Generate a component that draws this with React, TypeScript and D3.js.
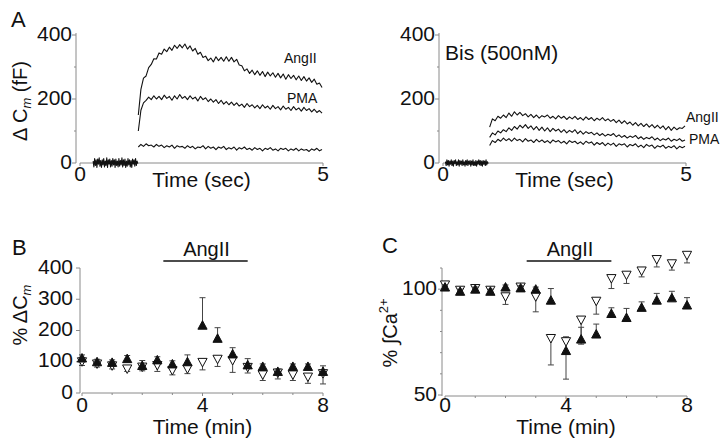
import React from "react";
import * as d3 from "d3";

const FONT = "'Liberation Sans', Arial, Helvetica, sans-serif";
const AXIS = "#8a8a8a";
const INK = "#111";

// ---------- Panel A (capacitance traces, time in sec) ----------
const aXTicks = [0, 5];
const aYTicks = [0, 200, 400];
const aYMinor = [100, 300];

const aLeftBaseRange = [0.27, 1.19];
const aLeftTraceRange = [1.2, 4.98];
const aLeftBaseline = [6, -12, 14, -8, 10, -14, 12, -4, 16, -10, 8, -14, 10, -6, 14, -12, 6, -8, 16, -14, 10, -4, 12, -12, 8, -10, 14, -6, 10, -14, 12, -8, 6, -12, 14, -10, 8, -6, 16, -12, 10, -8, 12, -14, 6, -10, 14, -6, 10, -12, 8, -14, 12, -4, 10, -10, 14, -8, 6, -2];
const aLeftAngII = [150, 230, 265, 272, 298, 308, 326, 325, 344, 340, 356, 348, 362, 352, 368, 358, 370, 360, 372, 356, 366, 350, 358, 340, 346, 330, 334, 320, 328, 316, 332, 320, 330, 318, 332, 318, 330, 316, 324, 306, 304, 288, 294, 280, 290, 276, 288, 274, 286, 270, 284, 272, 282, 268, 280, 266, 278, 262, 276, 264, 274, 260, 272, 258, 270, 256, 266, 252, 262, 246, 250, 236];
const aLeftPMA = [100, 165, 188, 196, 206, 198, 210, 200, 208, 198, 212, 202, 208, 196, 210, 200, 214, 202, 208, 198, 210, 200, 206, 194, 208, 198, 204, 192, 200, 190, 198, 186, 196, 184, 192, 182, 190, 180, 188, 178, 184, 174, 186, 176, 182, 172, 180, 170, 182, 172, 178, 168, 180, 170, 176, 166, 178, 168, 174, 164, 176, 166, 172, 162, 174, 164, 170, 160, 168, 158, 164, 156];
const aLeftControl = [50, 58, 52, 60, 54, 56, 50, 58, 52, 56, 48, 54, 50, 56, 46, 54, 50, 52, 46, 54, 48, 52, 44, 50, 48, 54, 44, 52, 46, 50, 42, 50, 46, 52, 42, 48, 44, 50, 40, 48, 44, 50, 42, 46, 40, 48, 42, 46, 38, 46, 42, 48, 40, 44, 38, 46, 42, 46, 38, 44, 40, 46, 38, 44, 40, 42, 36, 44, 40, 46, 38, 42];

const aRightBaseRange = [0.05, 0.93];
const aRightTraceRange = [0.96, 4.98];
const aRightBaseline = [4, -8, 10, -6, 8, -10, 6, -4, 10, -8, 6, -10, 8, -2, 10, -8, 4, -6, 10, -10, 8, -4, 6, -8, 10, -6, 4, -10, 8, -6, 10, -8, 6, -4, 8, -10, 6, -6, 10, -8, 4, -8, 8, -10, 6, -4, 10, -6, 8, -8, 6, -10, 8, -4, 6, -8, 10, -6, 4, -2];
const aRightAngII = [112, 138, 132, 146, 140, 150, 142, 156, 146, 160, 150, 158, 148, 154, 144, 152, 142, 150, 140, 148, 144, 150, 140, 146, 138, 148, 140, 146, 136, 144, 138, 146, 136, 142, 134, 144, 136, 142, 132, 140, 134, 142, 132, 138, 130, 136, 126, 134, 124, 132, 122, 128, 118, 126, 116, 124, 114, 122, 112, 120, 110, 118, 108, 116, 104, 114, 102, 112, 104, 110, 108, 116];
const aRightMid = [80, 94, 88, 100, 94, 104, 98, 110, 102, 114, 106, 118, 110, 120, 108, 116, 104, 114, 102, 112, 100, 110, 98, 108, 100, 106, 96, 104, 94, 102, 96, 104, 92, 100, 90, 98, 92, 96, 88, 94, 86, 92, 84, 90, 86, 92, 82, 88, 80, 86, 78, 84, 80, 86, 76, 82, 74, 80, 76, 82, 72, 78, 70, 76, 72, 78, 68, 74, 70, 76, 68, 72];
const aRightLow = [55, 70, 64, 74, 68, 78, 70, 76, 68, 78, 70, 74, 66, 76, 68, 72, 64, 74, 66, 72, 64, 70, 62, 72, 66, 70, 62, 68, 60, 70, 64, 68, 60, 66, 58, 68, 62, 66, 56, 64, 58, 64, 54, 62, 56, 62, 52, 60, 56, 60, 50, 58, 54, 60, 50, 56, 48, 58, 52, 56, 46, 54, 50, 56, 46, 52, 48, 54, 44, 52, 48, 52];

// ---------- Panels B and C (time in min) ----------
const timeMin = [0, 0.5, 1, 1.5, 2, 2.5, 3, 3.5, 4, 4.5, 5, 5.5, 6, 6.5, 7, 7.5, 8];
const bcXTicks = [0, 4, 8];
const bcXMinor = [1, 2, 3, 5, 6, 7];
const angIIPeriod = [2.7, 5.5];

const bYTicks = [0, 100, 200, 300, 400];
const bFilled = [112, 100, 98, 110, 88, 106, 93, 100, 217, 175, 125, 90, 85, 69, 85, 85, 69];
const bFilledErrUp = [10, 8, 8, 10, 16, 10, 10, 22, 88, 34, 20, 20, 8, 8, 8, 8, 18];
const bFilledErrDown = [0, 0, 0, 0, 0, 0, 0, 0, 0, 0, 0, 0, 0, 0, 0, 0, 0];
const bOpen = [100, 93, 87, 77, 83, 88, 72, 77, 98, 108, 104, 82, 58, 64, 58, 51, 62];
const bOpenErrUp = [0, 0, 0, 0, 0, 0, 0, 0, 0, 0, 0, 0, 0, 0, 0, 0, 0];
const bOpenErrDown = [12, 10, 10, 8, 12, 19, 14, 15, 24, 23, 38, 18, 18, 19, 18, 20, 33];

const cYTicks = [50, 100];
const cYMinor = [60, 70, 80, 90, 110];
const cFilled = [101, 99, 100, 99, 101, 100.6, 100, 94.8, 71, 76.4, 78.8, 88.5, 86.6, 91.4, 94.8, 95.9, 92.5];
const cFilledErrUp = [1, 1, 1, 1, 1, 1, 1, 5.5, 0, 5.6, 4.7, 2.7, 4.3, 2.6, 3.2, 3.1, 3.5];
const cFilledErrDown = [0, 0, 0, 0, 0, 0, 0, 0, 13.5, 0, 0, 0, 0, 0, 0, 0, 0];
const cOpen = [102, 99.5, 100.3, 99.5, 96.4, 101, 96.4, 76.7, 75.2, 85.4, 94.3, 105, 106.6, 108.6, 114, 112, 116];
const cOpenErrUp = [0, 0, 0, 0, 0, 0, 0, 0, 2.3, 0, 0, 0, 0, 0, 0, 0, 0];
const cOpenErrDown = [0.8, 0.8, 0.8, 0.8, 3.6, 1.5, 7.1, 12.5, 0, 11.4, 6.1, 4.7, 3.9, 2.8, 3.5, 3, 3.6];

type Scale = d3.ScaleLinear<number, number>;

function Trace({ x, y, range, values }: { x: Scale; y: Scale; range: number[]; values: number[] }) {
  const n = values.length;
  const pts: [number, number][] = values.map((v, i) => [range[0] + (i * (range[1] - range[0])) / (n - 1), v]);
  const line = d3.line<[number, number]>().x((d) => x(d[0])).y((d) => y(d[1]));
  return <path d={line(pts) || ""} fill="none" stroke={INK} strokeWidth={1.1} strokeLinejoin="round" />;
}

function PanelA({ x, y, axisX, label, base, baseRange, traceRange, traces, title }: any) {
  const y0 = y(0);
  return (
    <g>
      <line x1={axisX} x2={axisX} y1={y(400) - 2} y2={y0} stroke={AXIS} strokeWidth={1} />
      <line x1={x(0)} x2={x(5)} y1={y0} y2={y0} stroke={AXIS} strokeWidth={1} />
      {aYTicks.map((t) => (
        <g key={"yt" + t}>
          <line x1={axisX - 4} x2={axisX} y1={y(t)} y2={y(t)} stroke={AXIS} />
          <text x={axisX - 4} y={y(t) - 2} textAnchor="end" dominantBaseline="central" fontSize={21} fill={INK}>
            {t}
          </text>
        </g>
      ))}
      {aYMinor.map((t) => (
        <line key={"ym" + t} x1={axisX - 2} x2={axisX} y1={y(t)} y2={y(t)} stroke={AXIS} />
      ))}
      {aXTicks.map((t) => (
        <g key={"xt" + t}>
          <line x1={x(t)} x2={x(t)} y1={y0} y2={y0 + 3} stroke={AXIS} />
          <text x={x(t)} y={y0 + 18} textAnchor="middle" fontSize={21} fill={INK}>
            {t}
          </text>
        </g>
      ))}
      <text x={(x(0) + x(5)) / 2} y={y0 + 24} textAnchor="middle" fontSize={21} fill={INK}>
        Time (sec)
      </text>
      <Trace x={x} y={y} range={baseRange} values={base} />
      {traces.map((tr: number[], i: number) => (
        <Trace key={i} x={x} y={y} range={traceRange} values={tr} />
      ))}
      {label}
      {title}
    </g>
  );
}

function Markers({ x, y, values, errUp, errDown, filled }: any) {
  const w = 4.6;
  const h = 8;
  return (
    <g>
      {values.map((v: number, i: number) => {
        const cx = x(timeMin[i]);
        const cy = y(v);
        const up = errUp[i];
        const dn = errDown[i];
        return (
          <g key={i}>
            {up > 0 && (
              <g stroke="#444" strokeWidth={1}>
                <line x1={cx} x2={cx} y1={cy} y2={y(v + up)} />
                <line x1={cx - 3} x2={cx + 3} y1={y(v + up)} y2={y(v + up)} />
              </g>
            )}
            {dn > 0 && (
              <g stroke="#444" strokeWidth={1}>
                <line x1={cx} x2={cx} y1={cy} y2={y(v - dn)} />
                <line x1={cx - 3} x2={cx + 3} y1={y(v - dn)} y2={y(v - dn)} />
              </g>
            )}
          </g>
        );
      })}
      {values.map((v: number, i: number) => {
        const cx = x(timeMin[i]);
        const cy = y(v);
        const d = filled
          ? `M${cx},${cy - h / 2 - 0.5}L${cx + w},${cy + h / 2}L${cx - w},${cy + h / 2}Z`
          : `M${cx},${cy + h / 2 + 0.5}L${cx + w},${cy - h / 2}L${cx - w},${cy - h / 2}Z`;
        return <path key={"m" + i} d={d} fill={filled ? INK : "#fff"} stroke={INK} strokeWidth={1} />;
      })}
    </g>
  );
}

function BCAxes({ x, y, axisX, yTicks, yMinor, yMax, y0, labelGap }: any) {
  return (
    <g>
      <line x1={axisX} x2={axisX} y1={y(yMax)} y2={y0} stroke={AXIS} />
      <line x1={x(0)} x2={x(8)} y1={y0} y2={y0} stroke={AXIS} />
      {yTicks.map((t: number) => (
        <g key={"y" + t}>
          <line x1={axisX - 4} x2={axisX} y1={y(t)} y2={y(t)} stroke={AXIS} />
          <text x={axisX - labelGap} y={y(t) - 2} textAnchor="end" dominantBaseline="central" fontSize={21} fill={INK}>
            {t}
          </text>
        </g>
      ))}
      {yMinor.map((t: number) => (
        <line key={"ym" + t} x1={axisX - 2} x2={axisX} y1={y(t)} y2={y(t)} stroke={AXIS} />
      ))}
      {bcXTicks.map((t) => (
        <g key={"x" + t}>
          <line x1={x(t)} x2={x(t)} y1={y0} y2={y0 + 3} stroke={AXIS} />
          <text x={x(t)} y={412} textAnchor="middle" fontSize={21} fill={INK}>
            {t}
          </text>
        </g>
      ))}
      {bcXMinor.map((t) => (
        <line key={"xm" + t} x1={x(t)} x2={x(t)} y1={y0} y2={y0 + 2} stroke={AXIS} />
      ))}
      <text x={(x(0) + x(8)) / 2} y={434} textAnchor="middle" fontSize={21} fill={INK}>
        Time (min)
      </text>
      <line x1={x(angIIPeriod[0])} x2={x(angIIPeriod[1])} y1={261} y2={261} stroke={INK} strokeWidth={1.3} />
      <text x={(x(angIIPeriod[0]) + x(angIIPeriod[1])) / 2 + 1} y={256} textAnchor="middle" fontSize={20} fill={INK}>
        AngII
      </text>
    </g>
  );
}

export default function App() {
  const xAL = d3.scaleLinear().domain([0, 5]).range([80, 323]);
  const xAR = d3.scaleLinear().domain([0, 5]).range([443, 686]);
  const yA = d3.scaleLinear().domain([0, 400]).range([163, 35]);

  const xB = d3.scaleLinear().domain([0, 8]).range([82, 323]);
  const yB = d3.scaleLinear().domain([0, 400]).range([393, 268]);

  const xC = d3.scaleLinear().domain([0, 8]).range([445, 687]);
  const yC = d3.scaleLinear().domain([50, 110]).range([395, 268]);

  return (
    <svg width={720} height={446} style={{ position: "absolute", left: 0, top: 0, background: "#fff" }} fontFamily={FONT}>
      <rect width={720} height={446} fill="#fff" />
      <text x={11} y={27} fontSize={22} fill={INK}>A</text>
      <text x={12} y={255} fontSize={22} fill={INK}>B</text>
      <text x={382} y={253} fontSize={22} fill={INK}>C</text>

      <PanelA
        x={xAL}
        y={yA}
        axisX={76}
        base={aLeftBaseline}
        baseRange={aLeftBaseRange}
        traceRange={aLeftTraceRange}
        traces={[aLeftAngII, aLeftPMA, aLeftControl]}
        label={
          <g fontSize={14} fill={INK}>
            <text x={284} y={63}>AngII</text>
            <text x={287} y={103}>PMA</text>
          </g>
        }
        title={null}
      />
      <text transform="translate(27,101) rotate(-90)" textAnchor="middle" fontSize={20} fill={INK}>
        Δ C<tspan fontSize={13} fontStyle="italic" dy={4}>m</tspan>
        <tspan dy={-4}> (fF)</tspan>
      </text>

      <PanelA
        x={xAR}
        y={yA}
        axisX={439}
        base={aRightBaseline}
        baseRange={aRightBaseRange}
        traceRange={aRightTraceRange}
        traces={[aRightAngII, aRightMid, aRightLow]}
        label={
          <g fontSize={14} fill={INK}>
            <text x={686} y={122}>AngII</text>
            <text x={689} y={144}>PMA</text>
          </g>
        }
        title={
          <text x={445} y={60} fontSize={21} fill={INK}>
            Bis (500nM)
          </text>
        }
      />

      <BCAxes x={xB} y={yB} axisX={80} yTicks={bYTicks} yMinor={[]} yMax={400} y0={393} labelGap={7} />
      <Markers x={xB} y={yB} values={bOpen} errUp={bOpenErrUp} errDown={bOpenErrDown} filled={false} />
      <Markers x={xB} y={yB} values={bFilled} errUp={bFilledErrUp} errDown={bFilledErrDown} filled={true} />
      <text transform="translate(27,315) rotate(-90)" textAnchor="middle" fontSize={20} fill={INK}>
        % ΔC<tspan fontSize={13} fontStyle="italic" dy={4}>m</tspan>
      </text>

      <BCAxes x={xC} y={yC} axisX={442} yTicks={cYTicks} yMinor={cYMinor} yMax={110} y0={396} labelGap={5} />
      <Markers x={xC} y={yC} values={cOpen} errUp={cOpenErrUp} errDown={cOpenErrDown} filled={false} />
      <Markers x={xC} y={yC} values={cFilled} errUp={cFilledErrUp} errDown={cFilledErrDown} filled={true} />
      <text transform="translate(397,333) rotate(-90)" textAnchor="middle" fontSize={20} fill={INK}>
        % ∫Ca<tspan fontSize={13} dy={-9}>2+</tspan>
      </text>
    </svg>
  );
}
